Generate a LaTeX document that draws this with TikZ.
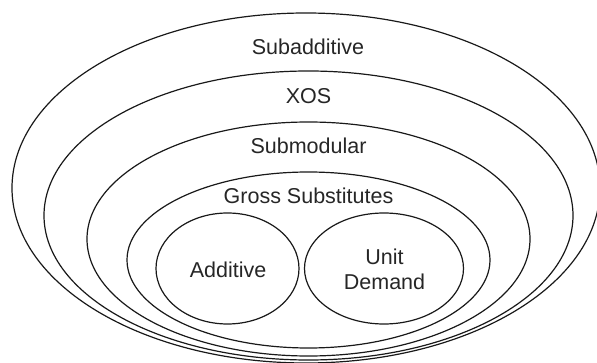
\documentclass[tikz,border=0pt]{standalone}
\usepackage{fontspec}
\setmainfont{Liberation Sans}
\usetikzlibrary{shapes.geometric}
\begin{document}
\begin{tikzpicture}[x=1pt,y=-1pt,
  ring/.style={ellipse, draw=black!90, line width=1.2pt, inner sep=0pt, outer sep=0pt},
  lbl/.style={text=black!85, font=\fontsize{21.5}{25}\selectfont, inner sep=0pt, align=center}]
\useasboundingbox (0,0) rectangle (597,363);
\clip (0,0) rectangle (597,363);
\node[ring, minimum width=588pt, minimum height=350pt] (subadd) at (306,188) {};
\node[ring, minimum width=529pt, minimum height=289pt] (xos) at (308.5,215.5) {};
\node[ring, minimum width=443pt, minimum height=234pt] (submod) at (308.5,239) {};
\node[ring, minimum width=363pt, minimum height=176pt] (gs) at (308.5,260) {};
\node[ring, minimum width=143pt, minimum height=111pt] (add) at (227.5,268.5) {};
\node[ring, minimum width=159pt, minimum height=111pt] (ud) at (384,268.5) {};
\node[lbl] (tsubadd) at (308,47) {Subadditive};
\node[lbl] (txos) at (308.5,96) {XOS};
\node[lbl] (tsubmod) at (308.5,146) {Submodular};
\node[lbl] (tgs) at (308.5,196) {Gross Substitutes};
\node[lbl] (tadd) at (228,270) {Additive};
\node[lbl] (tud) at (384.5,269.5) {Unit\\Demand};
\end{tikzpicture}
\end{document}
